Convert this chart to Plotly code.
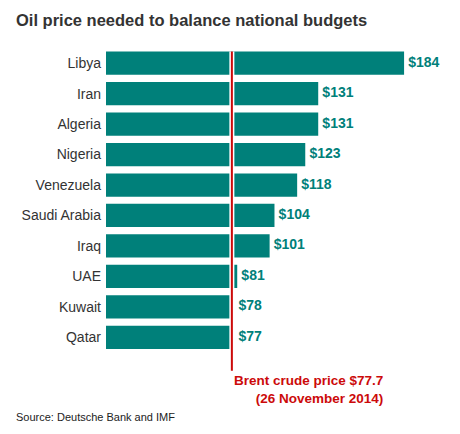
import plotly.graph_objects as go

countries = ["Libya", "Iran", "Algeria", "Nigeria", "Venezuela", "Saudi Arabia", "Iraq", "UAE", "Kuwait", "Qatar"]
prices = [184, 131, 131, 123, 118, 104, 101, 81, 78, 77]
labels = ["$184", "$131", "$131", "$123", "$118", "$104", "$101", "$81", "$78", "$77"]
brent_price = 77.7
brent_label = "Brent crude price $77.7<br>(26 November 2014)"
title_text = "Oil price needed to balance national budgets"
source_text = "Source: Deutsche Bank and IMF"

TEAL = "#00807A"
RED = "#CC0A0A"
FONT = "Liberation Sans, Arial, sans-serif"

# figure sits inside the page body (8px default margin), so size is reduced
W, H = 444, 418
L, T = 98, 40.3
ROW = 30.44
PH = 11.1 * ROW
PW = W - L
B = H - T - PH

ypos = list(range(len(countries)))

fig = go.Figure()
fig.add_trace(go.Bar(
    x=prices, y=ypos, orientation="h",
    marker=dict(color=TEAL, line=dict(width=0)),
    hoverinfo="skip",
))
# value labels: placed after the bar end, or after the Brent line if the bar is shorter
label_x = [max(p, brent_price + 1.5) for p in prices]
fig.add_trace(go.Scatter(
    x=label_x, y=ypos, mode="markers+text", text=labels,
    marker=dict(size=5, opacity=0),
    textposition="middle right", cliponaxis=False,
    textfont=dict(family=FONT, size=14, color=TEAL, weight="bold"),
    hoverinfo="skip",
))

fig.update_layout(
    width=W, height=H,
    margin=dict(l=L, r=0, t=T, b=B, pad=0),
    paper_bgcolor="white", plot_bgcolor="white",
    bargap=0.235,
    showlegend=False,
    xaxis=dict(range=[0, PW / 1.62], visible=False, fixedrange=True),
    yaxis=dict(range=[10.6, -0.5], tickmode="array", automargin=False,
               tickvals=ypos, ticktext=countries,
               showgrid=False, zeroline=False, showline=False, ticks="",
               ticklabelstandoff=4, fixedrange=True,
               tickfont=dict(family=FONT, size=14, color="#333333")),
    font=dict(family=FONT),
    shapes=[
        dict(type="line", xref="x", yref="y", x0=brent_price, x1=brent_price,
             y0=-0.383, y1=10.1, line=dict(color="white", width=5), layer="above"),
        dict(type="line", xref="x", yref="y", x0=brent_price, x1=brent_price,
             y0=-0.383, y1=10.1, line=dict(color=RED, width=2), layer="above"),
    ],
    annotations=[
        dict(text="<b>" + title_text + "</b>", xref="paper", yref="paper",
             x=(6 - L) / PW, y=1, yshift=T - 12, xanchor="left", yanchor="middle",
             showarrow=False, font=dict(family=FONT, size=16.5, color="#333333")),
        dict(text="<b>" + brent_label + "</b>", xref="x", yref="y",
             x=brent_price, y=10.1, xanchor="left", yanchor="top", align="right",
             showarrow=False, font=dict(family=FONT, size=13.5, color=RED)),
        dict(text=source_text, xref="paper", yref="paper",
             x=(6 - L) / PW, y=0, yshift=-(409 - (T + PH)),
             xanchor="left", yanchor="middle",
             showarrow=False, font=dict(family=FONT, size=11, color="#222222")),
    ],
)

fig.write_html("out.html")
